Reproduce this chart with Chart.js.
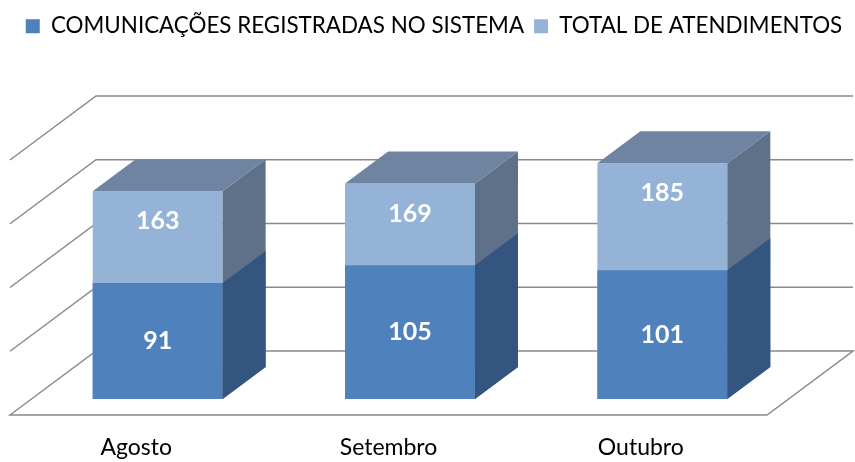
<!DOCTYPE html>
<html><head><meta charset="utf-8">
<script src="https://cdn.jsdelivr.net/npm/chart.js@4.4.1/dist/chart.umd.min.js"></script>
<style>html,body{margin:0;padding:0;background:#fff;}</style>
</head><body>
<canvas id="c" width="855" height="462"></canvas>
<script>
const categories = ['Agosto', 'Setembro', 'Outubro'];
const comunicacoes = [91, 105, 101];
const totalAtendimentos = [163, 169, 185];
const seriesNames = ['COMUNICAÇÕES REGISTRADAS NO SISTEMA', 'TOTAL DE ATENDIMENTOS'];
const yRange = {min: 0, max: 200, step: 50};

const FONT = 'Lato';
const LEGEND_SIZE = 22.4;
const DEPTH = {dx: 86, dy: -64};
const BAR_FRONT = 0.25, BAR_BACK = 0.75;
const faceColors = [
  {side: '#33557f', top: null},
  {side: '#5f7189', top: '#6f84a1'}
];

function poly(ctx, pts) {
  ctx.beginPath();
  ctx.moveTo(pts[0][0], pts[0][1]);
  for (let i = 1; i < pts.length; i++) ctx.lineTo(pts[i][0], pts[i][1]);
  ctx.closePath();
  ctx.fill();
}

const threeD = {
  id: 'threeD',
  beforeDatasetsDraw(chart) {
    const {ctx, chartArea: a, scales: {y}} = chart;
    const fx = -DEPTH.dx * BAR_FRONT, fy = -DEPTH.dy * BAR_FRONT;
    const bx = DEPTH.dx * (1 - BAR_FRONT), by = DEPTH.dy * (1 - BAR_FRONT);
    ctx.save();
    ctx.strokeStyle = '#8a8a8a';
    ctx.lineWidth = 1.5;
    for (const t of y.ticks) {
      const yy = y.getPixelForValue(t.value);
      ctx.beginPath();
      ctx.moveTo(a.left + fx, yy + fy);
      ctx.lineTo(a.left + bx, yy + by);
      ctx.lineTo(a.right + bx, yy + by);
      if (t.value === yRange.min) {
        ctx.lineTo(a.right + fx, yy + fy);
        ctx.closePath();
      }
      ctx.stroke();
    }
    ctx.restore();
  },
  afterDatasetsDraw(chart) {
    const {ctx} = chart;
    const hx = DEPTH.dx * (BAR_BACK - BAR_FRONT), hy = DEPTH.dy * (BAR_BACK - BAR_FRONT);
    ctx.save();
    for (const di of [1, 0]) {
      const meta = chart.getDatasetMeta(di);
      const fc = faceColors[di];
      meta.data.forEach(bar => {
        const {x, y: top, base, width} = bar.getProps(['x', 'y', 'base', 'width'], true);
        const l = x - width / 2, r = x + width / 2;
        ctx.fillStyle = fc.side;
        poly(ctx, [[r, top], [r + hx, top + hy], [r + hx, base + hy], [r, base]]);
        if (fc.top) {
          ctx.fillStyle = fc.top;
          poly(ctx, [[l, top], [l + hx, top + hy], [r + hx, top + hy], [r, top]]);
        }
      });
    }
    ctx.font = 'bold 25px ' + FONT;
    ctx.fillStyle = '#ffffff';
    ctx.textAlign = 'center';
    ctx.textBaseline = 'middle';
    const m0 = chart.getDatasetMeta(0), m1 = chart.getDatasetMeta(1);
    m0.data.forEach((bar, i) => {
      const {x, y: top, base} = bar.getProps(['x', 'y', 'base'], true);
      ctx.fillText(String(chart.data.datasets[0].data[i]), x, (top + base) / 2);
    });
    m1.data.forEach((bar, i) => {
      const {x, y: top} = bar.getProps(['x', 'y'], true);
      ctx.fillText(String(chart.data.datasets[1].data[i]), x, top + 30);
    });
    ctx.restore();
  }
};

new Chart(document.getElementById('c'), {
  type: 'bar',
  data: {
    labels: categories,
    datasets: [
      {label: seriesNames[0], data: comunicacoes, backgroundColor: '#4f81bd', grouped: false},
      {label: seriesNames[1], data: totalAtendimentos, backgroundColor: '#95b3d7', grouped: false}
    ]
  },
  options: {
    responsive: false,
    animation: false,
    devicePixelRatio: 1,
    layout: {padding: {top: 5, left: 13, right: 0, bottom: 0}},
    datasets: {bar: {categoryPercentage: 1, barPercentage: 0.515}},
    plugins: {
      legend: {
        position: 'top',
        labels: {font: {family: FONT, size: LEGEND_SIZE}, color: '#000', boxWidth: 14, boxHeight: 14, padding: 10}
      },
      tooltip: {enabled: false}
    },
    scales: {
      x: {
        position: 'bottom',
        grid: {display: false, drawTicks: false},
        border: {display: false},
        ticks: {font: {family: FONT, size: 23}, color: '#000', padding: 35, labelOffset: -21.5, maxRotation: 0},
        afterFit(s) { s.height = 63; }
      },
      xTop: {
        type: 'category', position: 'top', display: true,
        grid: {display: false, drawTicks: false}, border: {display: false},
        ticks: {display: false},
        afterFit(s) { s.height = 96.6; }
      },
      y: {
        min: yRange.min, max: yRange.max,
        ticks: {stepSize: yRange.step, display: false},
        grid: {display: false, drawTicks: false}, border: {display: false},
        afterFit(s) { s.width = 18.5; }
      },
      yRight: {
        type: 'linear', position: 'right', min: yRange.min, max: yRange.max,
        ticks: {display: false},
        grid: {display: false, drawTicks: false}, border: {display: false},
        afterFit(s) { s.width = 66.5; }
      }
    }
  },
  plugins: [threeD]
});
</script>
</body></html>
